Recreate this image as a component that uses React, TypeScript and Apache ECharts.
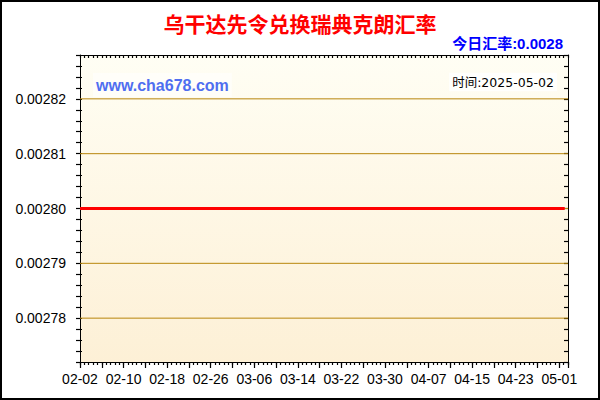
import React, { useEffect, useRef } from 'react';
import * as echarts from 'echarts';

// chart texts
const titleText = '乌干达先令兑换瑞典克朗汇率';
const siteText = 'www.cha678.com';
const rateCaption = '今日汇率:';
const timeCaption = '时间:';

// series: rate samples (flat at 0.0028 over the whole period)
const startDate = '2025-02-02';
const dates = [
  '2025-02-02', '2025-02-10', '2025-02-18', '2025-02-26', '2025-03-06',
  '2025-03-14', '2025-03-22', '2025-03-30', '2025-04-07', '2025-04-15',
  '2025-04-23', '2025-05-01', '2025-05-02',
];
const rates = [
  0.0028, 0.0028, 0.0028, 0.0028, 0.0028,
  0.0028, 0.0028, 0.0028, 0.0028, 0.0028,
  0.0028, 0.0028, 0.0028,
];

// axes
const xLabels = ['02-02', '02-10', '02-18', '02-26', '03-06', '03-14', '03-22', '03-30', '04-07', '04-15', '04-23', '05-01'];
const xLabelStep = 8; // days between labels
const xMajorStep = 4; // days between major ticks
const xMinorStep = 0.8;
const xRange = [0, 89.6]; // days from startDate
const yLabels = ['0.00278', '0.00279', '0.00280', '0.00281', '0.00282'];
const yRange = [0.002772, 0.002828];
const yTickStep = 0.000002;

const DAY = 86400000;
const dayIndex = (d: string) => (Date.parse(d) - Date.parse(startDate)) / DAY;

const BLACK = '#000';
const TICK_W = 1.2;
const tickAxis = (position: string, inside: boolean, length: number, showLine: boolean) => ({
  type: 'value',
  position,
  axisLine: { show: showLine, onZero: false, lineStyle: { color: BLACK, width: 1 } },
  axisTick: { show: true, inside, length, lineStyle: { color: BLACK, width: TICK_W } },
  axisLabel: { show: false },
  splitLine: { show: false },
});

export default function App() {
  const chartRef = useRef<HTMLDivElement>(null);

  useEffect(() => {
    if (!chartRef.current) return;
    const chart = echarts.init(chartRef.current, undefined, { renderer: 'svg' });

    const lastDate = dates[dates.length - 1];
    const lastRate = rates[rates.length - 1];
    const points = dates.map((d, i) => [dayIndex(d), rates[i]]);

    // horizontal grid lines at the labelled values, drawn on the top/right axes
    const gridSeries = yLabels.map((s) => ({
      type: 'line',
      xAxisIndex: 1,
      yAxisIndex: 1,
      z: 1,
      silent: true,
      symbol: 'none',
      lineStyle: { color: '#b8860b', width: 1 },
      data: [
        [xRange[0], Number(s)],
        [xRange[1], Number(s)],
      ],
    }));

    chart.setOption({
      animation: false,
      backgroundColor: '#ffffff',
      title: {
        text: titleText,
        left: 'center',
        top: 12,
        padding: 0,
        textStyle: {
          color: '#ff0000',
          fontSize: 21,
          fontWeight: 'bold',
          fontFamily: '"Noto Sans CJK SC", sans-serif',
        },
      },
      grid: {
        left: 80,
        right: 32,
        top: 55,
        bottom: 38,
        show: true,
        borderWidth: 0,
        backgroundColor: new echarts.graphic.LinearGradient(0, 0, 0, 1, [
          { offset: 0, color: '#fffef4' },
          { offset: 1, color: '#fdf0d6' },
        ]),
      },
      xAxis: [
        {
          ...tickAxis('bottom', false, 6, true),
          min: xRange[0],
          max: xRange[1],
          interval: xMajorStep,
          axisLabel: {
            show: true,
            color: BLACK,
            fontSize: 14,
            fontFamily: '"Liberation Sans", Arial, sans-serif',
            margin: 10,
            formatter: (v: number) => {
              const k = v / xLabelStep;
              if (Math.abs(k - Math.round(k)) > 1e-6) return '';
              return xLabels[Math.round(k)] ?? '';
            },
          },
        },
        { ...tickAxis('top', true, 3, true), min: xRange[0], max: xRange[1], interval: xMinorStep },
        { ...tickAxis('bottom', false, 3, false), min: xRange[0], max: xRange[1], interval: xMinorStep },
      ],
      yAxis: [
        {
          ...tickAxis('left', false, 4, true),
          min: yRange[0],
          max: yRange[1],
          interval: yTickStep,
          axisLabel: {
            show: true,
            color: BLACK,
            fontSize: 14,
            fontFamily: '"Liberation Sans", Arial, sans-serif',
            margin: 14,
            formatter: (v: number) => {
              const s = v.toFixed(5);
              return yLabels.includes(s) && Math.abs(v * 1e5 - Math.round(v * 1e5)) < 1e-6 ? s : '';
            },
          },
        },
        { ...tickAxis('right', true, 4, true), min: yRange[0], max: yRange[1], interval: yTickStep },
        // short inner half of the left ticks, so they cross the axis line
        { ...tickAxis('left', true, 2, false), min: yRange[0], max: yRange[1], interval: yTickStep },
      ],
      series: [
        ...gridSeries,
        {
          // invisible copy so the extra tick axes have data
          type: 'line',
          xAxisIndex: 2,
          yAxisIndex: 2,
          silent: true,
          symbol: 'none',
          lineStyle: { opacity: 0 },
          data: points,
        },
        {
          type: 'line',
          xAxisIndex: 0,
          yAxisIndex: 0,
          z: 3,
          symbol: 'none',
          lineStyle: { color: '#ff0000', width: 3 },
          data: points,
        },
      ],
      graphic: [
        {
          type: 'text',
          x: 563,
          y: 43,
          style: {
            text: rateCaption + String(lastRate),
            fill: '#0000ff',
            font: 'bold 15px "Liberation Sans", "Noto Sans CJK SC", sans-serif',
            textAlign: 'right',
            textVerticalAlign: 'middle',
          },
        },
        {
          type: 'text',
          x: 93,
          y: 85,
          z: 10,
          style: {
            text: siteText,
            fill: '#4f6ef0',
            font: 'bold 16px "Liberation Sans", Arial, sans-serif',
            textVerticalAlign: 'middle',
            backgroundColor: 'rgba(255,255,255,0.55)',
            padding: [4, 3],
          },
        },
        {
          type: 'text',
          x: 557,
          y: 82,
          z: 10,
          style: {
            text: timeCaption + lastDate,
            fill: BLACK,
            font: '12.5px "DejaVu Sans", "Noto Sans CJK SC", sans-serif',
            textAlign: 'right',
            textVerticalAlign: 'middle',
            backgroundColor: 'rgba(255,255,255,0.8)',
            padding: [3, 3],
          },
        },
        {
          type: 'rect',
          z: 20,
          shape: { x: 1, y: 1, width: 598, height: 398 },
          style: { fill: 'none', stroke: BLACK, lineWidth: 2 },
        },
      ],
    });

    return () => {
      chart.dispose();
    };
  }, []);

  return (
    <div
      ref={chartRef}
      style={{ position: 'absolute', left: 0, top: 0, width: 600, height: 400 }}
    />
  );
}
